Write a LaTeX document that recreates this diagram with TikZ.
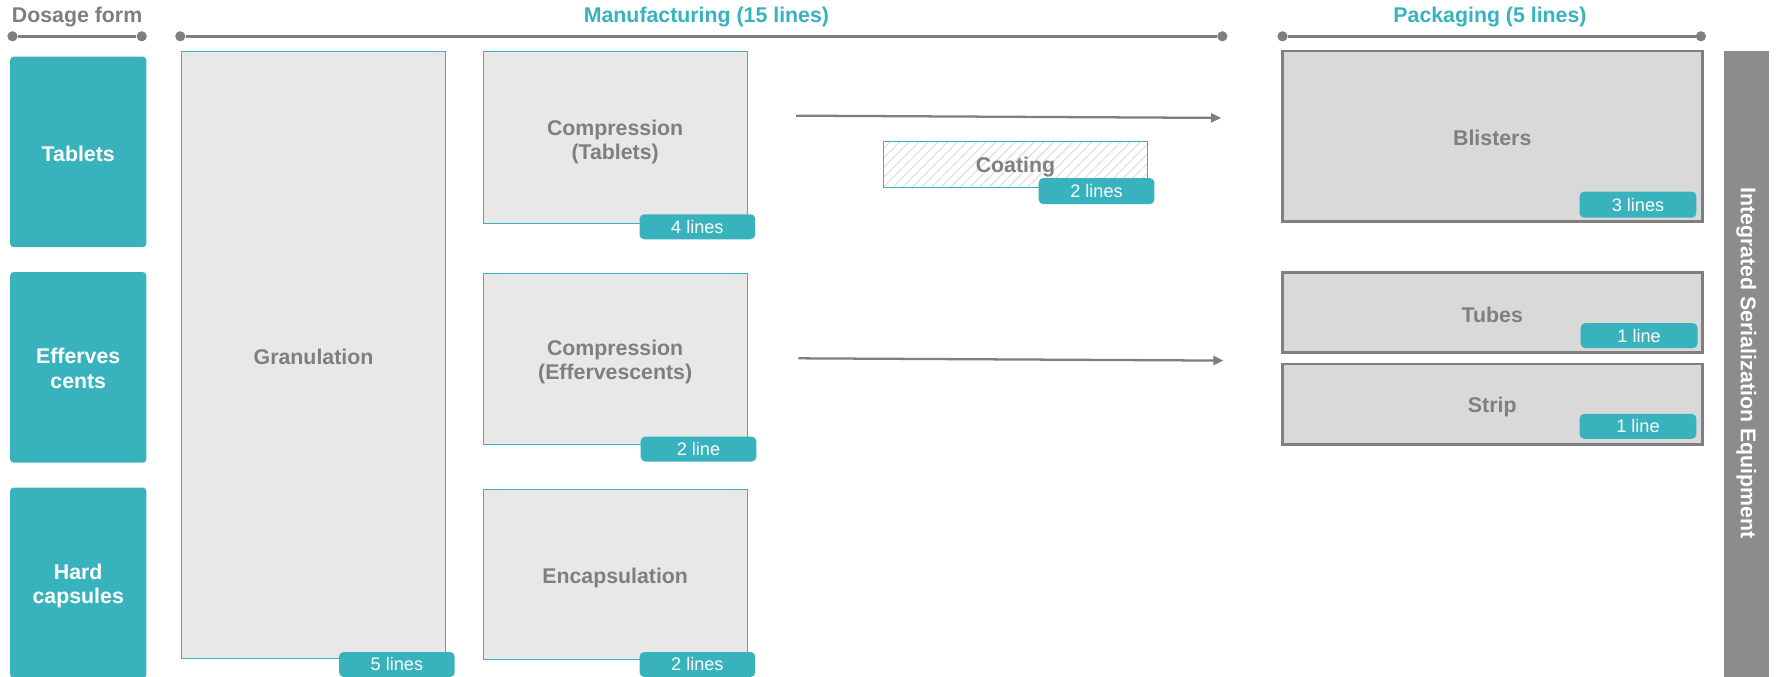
\documentclass[tikz,border=0pt]{standalone}
\usepackage{fontspec}
\setmainfont{Liberation Sans}
\usetikzlibrary{arrows.meta,patterns.meta}
\definecolor{tealc}{HTML}{38B3BE}
\definecolor{txtgray}{HTML}{7F7F7F}
\definecolor{boxfill}{HTML}{E8E8E8}
\definecolor{packfill}{HTML}{D9D9D9}
\definecolor{bargray}{HTML}{8C8C8C}
\definecolor{hatchc}{HTML}{DADADA}
\newcommand\hdrfont{\fontsize{18.8}{21.5}\selectfont\bfseries}
\newcommand\badgefont{\fontsize{16}{18}\selectfont}
\begin{document}
\begin{tikzpicture}[x=1pt,y=-1pt,
  dosebox/.style={fill=tealc, rounded corners=3pt, minimum width=120pt, minimum height=168pt, inner sep=0pt},
  mfgbox/.style={draw=tealc, line width=0.9pt, fill=boxfill, inner sep=0pt, minimum width=233pt},
  packbox/.style={draw=txtgray, line width=2.6pt, fill=packfill, inner sep=0pt, minimum width=370pt},
  wlbl/.style={text=white, font=\hdrfont, align=center, inner sep=0pt},
  glbl/.style={text=txtgray, font=\hdrfont, align=center, inner sep=0pt},
  badge/.style={fill=tealc, rounded corners=4pt, text=white, font=\badgefont, minimum width=102pt, minimum height=22pt, inner sep=0pt},
  hdr/.style={font=\hdrfont, inner sep=0pt},
  dotnode/.style={circle, fill=txtgray, minimum size=9pt, inner sep=0pt},
  hline/.style={draw=txtgray, line width=2.4pt},
  arr/.style={draw=txtgray, line width=2pt, -{Triangle[length=9pt,width=8pt]}}
]
\useasboundingbox[fill=white] (0,0) rectangle (1568,596.2);

% headers
\node[hdr, text=txtgray] (hdose) at (68,15) {Dosage form};
\node[hdr, text=tealc] (hmfg) at (623,15) {Manufacturing (15 lines)};
\node[hdr, text=tealc] (hpack) at (1314,15) {Packaging (5 lines)};

\node[dotnode] (d1) at (11,32) {};
\node[dotnode] (d2) at (125,32) {};
\node[dotnode] (m1) at (159,32) {};
\node[dotnode] (m2) at (1078,32) {};
\node[dotnode] (p1) at (1131,32) {};
\node[dotnode] (p2) at (1500,32) {};
\draw[hline] (d1) -- (d2);
\draw[hline] (m1) -- (m2);
\draw[hline] (p1) -- (p2);

% dosage forms
\node[dosebox] (tab) at (69,134) {};
\node[dosebox] (eff) at (69,324) {};
\node[dosebox] (hard) at (69,514) {};
\node[wlbl] (tab-t) at ([yshift=-2pt]tab.center) {Tablets};
\node[wlbl] (eff-t) at ([yshift=-1pt]eff.center) {Efferves\\cents};
\node[wlbl] (hard-t) at ([yshift=-3pt]hard.center) {Hard\\capsules};

% manufacturing
\node[mfgbox, minimum height=536pt] (gran) at (276.5,313) {};
\node[mfgbox, minimum height=152pt] (compt) at (542.5,121) {};
\node[mfgbox, minimum height=151pt] (compe) at (542.5,316.5) {};
\node[mfgbox, minimum height=150pt] (encap) at (542.5,507) {};
\node[mfgbox, fill=white, minimum height=40pt] (coatbg) at (895.5,145) {};
\node[mfgbox, fill=none, pattern={Lines[angle=45,distance=6pt,line width=0.8pt]}, pattern color=hatchc, minimum height=40pt] (coat) at (895.5,145) {};
\node[glbl] (gran-t) at ([yshift=-2pt]gran.center) {Granulation};
\node[glbl] (compt-t) at ([yshift=-4pt]compt.center) {Compression\\(Tablets)};
\node[glbl] (compe-t) at ([yshift=-3pt]compe.center) {Compression\\(Effervescents)};
\node[glbl] (encap-t) at ([yshift=-2.5pt]encap.center) {Encapsulation};
\node[glbl] (coat-t) at ([yshift=-2.5pt]coat.center) {Coating};

\node[badge] (bgran) at (350,586) {5 lines};
\node[badge] (bcompt) at (615,200) {4 lines};
\node[badge] (bcompe) at (616,396) {2 line};
\node[badge] (bencap) at (615,586) {2 lines};
\node[badge, minimum height=23pt] (bcoat) at (967,168.5) {2 lines};

% arrows
\coordinate (a1s) at (702,102);
\coordinate (a1e) at (1077,104);
\coordinate (a2s) at (704,316);
\coordinate (a2e) at (1079,318);
\draw[arr] (a1s) -- (a1e);
\draw[arr] (a2s) -- (a2e);

% packaging
\node[packbox, minimum height=150pt] (blis) at (1316,120) {};
\node[packbox, minimum height=71pt] (tube) at (1316,275.5) {};
\node[packbox, minimum height=71pt] (strip) at (1316,356.5) {};
\node[glbl] (blis-t) at ([yshift=-2pt]blis.center) {Blisters};
\node[glbl] (tube-t) at ([yshift=-2pt]tube.center) {Tubes};
\node[glbl] (strip-t) at ([yshift=-2.5pt]strip.center) {Strip};
\node[badge, minimum width=103pt, minimum height=23pt] (bblis) at (1444.5,180.5) {3 lines};
\node[badge, minimum width=103pt] (btube) at (1445.5,296) {1 line};
\node[badge, minimum width=103pt] (bstrip) at (1444.5,376) {1 line};

% serialization bar
\node[fill=bargray, minimum width=40pt, minimum height=560pt, inner sep=0pt] (bar) at (1540,325) {};
\node[hdr, text=white, rotate=-90] (bartxt) at (1540,320) {Integrated Serialization Equipment};
\end{tikzpicture}
\end{document}
